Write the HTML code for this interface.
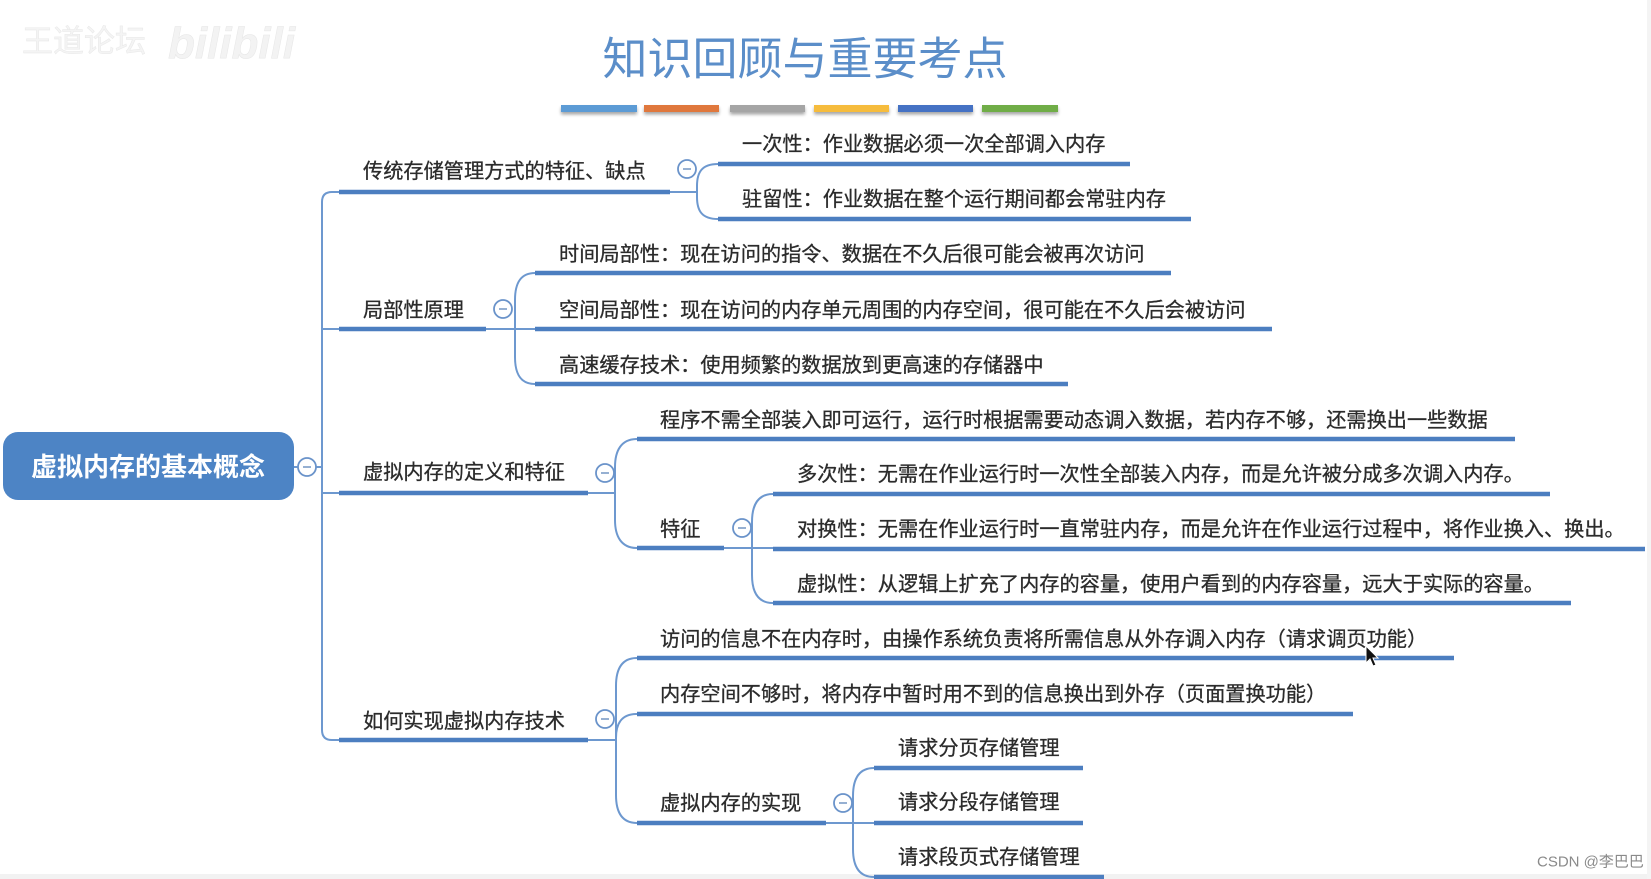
<!DOCTYPE html>
<html><head><meta charset="utf-8"><style>
html,body{margin:0;padding:0;background:#fff;}
svg{display:block;}
text{font-family:"Liberation Sans","Noto Sans CJK SC",sans-serif;}
.t{font-size:20.2px;fill:#2b2b2b;stroke:#2b2b2b;stroke-width:0.3;dominant-baseline:central;}
.u{stroke:#4c7ec0;stroke-width:4.5;stroke-linecap:butt;fill:none;}
.c{stroke:#6d98cf;stroke-width:2;fill:none;}
.btn circle{fill:#fff;stroke:#6a93ca;stroke-width:1.8;}
.btn line{stroke:#7c9cc6;stroke-width:1.6;}
</style></head><body>
<svg width="1651" height="879" viewBox="0 0 1651 879" xmlns="http://www.w3.org/2000/svg">
<defs>
<filter id="sh" x="-10%" y="-50%" width="120%" height="250%"><feGaussianBlur in="SourceAlpha" stdDeviation="1.5"/><feOffset dy="2.5"/><feComponentTransfer><feFuncA type="linear" slope="0.35"/></feComponentTransfer><feMerge><feMergeNode/><feMergeNode in="SourceGraphic"/></feMerge></filter>
</defs>
<rect width="1651" height="879" fill="#fff"/>
<rect x="0" y="874" width="1651" height="5" fill="#f2f2f2"/>
<rect x="1647" y="0" width="4" height="879" fill="#f4f4f4"/>

<!-- watermark -->
<text x="22" y="52" font-size="31" fill="#f4f4f4" stroke="#e8e8e8" stroke-width="0.5">王道论坛</text>
<text x="168" y="58" font-size="44" font-weight="bold" fill="#f3f3f3" stroke="#e6e6e6" stroke-width="0.5" font-style="italic">bilibili</text>

<!-- title -->
<text x="805" y="59" font-size="45" fill="#5b8ec9" text-anchor="middle" dominant-baseline="central">知识回顾与重要考点</text>
<g filter="url(#sh)">
<rect x="561" y="105" width="76" height="7" fill="#5b9bd5"/>
<rect x="644" y="105" width="75" height="7" fill="#e0783d"/>
<rect x="730" y="105" width="75" height="7" fill="#a5a5a5"/>
<rect x="814" y="105" width="75" height="7" fill="#f6bc3c"/>
<rect x="898" y="105" width="75" height="7" fill="#4472c4"/>
<rect x="982" y="105" width="76" height="7" fill="#70ad47"/>
</g>

<!-- root -->
<rect x="3" y="432" width="291" height="68" rx="15" fill="#4d84c5"/>
<text x="148" y="467" font-size="26" font-weight="bold" fill="#fff" text-anchor="middle" dominant-baseline="central">虚拟内存的基本概念</text>
<path class="c" d="M294 467 H322"/>
<g class="btn"><circle cx="307" cy="467" r="9"/><line x1="303" y1="467" x2="311" y2="467"/></g>

<!-- trunk -->
<path class="c" d="M339 192 H332 Q322 192 322 202 V730 Q322 740 332 740 H339"/>
<path class="c" d="M322 329 H339 M322 493 H339"/>

<!-- Branch 1 -->
<text class="t" x="363" y="172">传统存储管理方式的特征、缺点</text>
<path class="u" d="M339 192 H670"/>
<path class="c" d="M670 192 H697"/>
<path class="c" d="M718 164 C702 164 697 172 697 186 V197 C697 211 702 219 718 219"/>
<g class="btn"><circle cx="687" cy="169" r="9"/><line x1="683" y1="169" x2="691" y2="169"/></g>
<text class="t" x="742" y="145">一次性：作业数据必须一次全部调入内存</text>
<path class="u" d="M718 164 H1130"/>
<text class="t" x="742" y="200">驻留性：作业数据在整个运行期间都会常驻内存</text>
<path class="u" d="M718 219 H1191"/>

<!-- Branch 2 -->
<text class="t" x="363" y="311">局部性原理</text>
<path class="u" d="M339 329 H486"/>
<path class="c" d="M486 329 H535"/>
<path class="c" d="M535 273 C520 273 515 284 515 300 V357 C515 373 520 384 535 384"/>
<g class="btn"><circle cx="503" cy="309" r="9"/><line x1="499" y1="309" x2="507" y2="309"/></g>
<text class="t" x="559" y="255">时间局部性：现在访问的指令、数据在不久后很可能会被再次访问</text>
<path class="u" d="M535 273 H1171"/>
<text class="t" x="559" y="311">空间局部性：现在访问的内存单元周围的内存空间，很可能在不久后会被访问</text>
<path class="u" d="M535 329 H1272"/>
<text class="t" x="559" y="366">高速缓存技术：使用频繁的数据放到更高速的存储器中</text>
<path class="u" d="M535 384 H1068"/>

<!-- Branch 3 -->
<text class="t" x="363" y="473">虚拟内存的定义和特征</text>
<path class="u" d="M339 493 H588"/>
<path class="c" d="M588 493 H615"/>
<path class="c" d="M637 439 C621 439 615 451 615 467 V520 C615 536 621 548 637 548"/>
<g class="btn"><circle cx="605" cy="473" r="9"/><line x1="601" y1="473" x2="609" y2="473"/></g>
<text class="t" x="660" y="421">程序不需全部装入即可运行，运行时根据需要动态调入数据，若内存不够，还需换出一些数据</text>
<path class="u" d="M637 439 H1515"/>
<text class="t" x="660" y="530">特征</text>
<path class="u" d="M637 548 H724"/>
<path class="c" d="M724 548 H773"/>
<path class="c" d="M773 494 C757 494 752 506 752 522 V575 C752 591 757 603 773 603"/>
<g class="btn"><circle cx="742" cy="528" r="9"/><line x1="738" y1="528" x2="746" y2="528"/></g>
<text class="t" x="797" y="475">多次性：无需在作业运行时一次性全部装入内存，而是允许被分成多次调入内存。</text>
<path class="u" d="M773 494 H1550"/>
<text class="t" x="797" y="530">对换性：无需在作业运行时一直常驻内存，而是允许在作业运行过程中，将作业换入、换出。</text>
<path class="u" d="M773 549 H1645"/>
<text class="t" x="797" y="585">虚拟性：从逻辑上扩充了内存的容量，使用户看到的内存容量，远大于实际的容量。</text>
<path class="u" d="M773 603 H1571"/>

<!-- Branch 4 -->
<text class="t" x="363" y="722">如何实现虚拟内存技术</text>
<path class="u" d="M339 740 H588"/>
<path class="c" d="M588 740 H616"/>
<path class="c" d="M637 658 C621 658 616 670 616 686 V795 C616 811 621 823 637 823"/>
<path class="c" d="M616 738 C616 724 621 714 637 714"/>
<g class="btn"><circle cx="605" cy="719" r="9"/><line x1="601" y1="719" x2="609" y2="719"/></g>
<text class="t" x="660" y="640">访问的信息不在内存时，由操作系统负责将所需信息从外存调入内存（请求调页功能）</text>
<path class="u" d="M637 658 H1454"/>
<text class="t" x="660" y="695">内存空间不够时，将内存中暂时用不到的信息换出到外存（页面置换功能）</text>
<path class="u" d="M637 714 H1353"/>
<text class="t" x="660" y="804">虚拟内存的实现</text>
<path class="u" d="M637 823 H826"/>
<path class="c" d="M826 823 H874"/>
<path class="c" d="M874 768 C858 768 853 780 853 796 V849 C853 865 858 877 874 877"/>
<g class="btn"><circle cx="843" cy="803" r="9"/><line x1="839" y1="803" x2="847" y2="803"/></g>
<text class="t" x="898" y="749">请求分页存储管理</text>
<path class="u" d="M874 768 H1083"/>
<text class="t" x="898" y="803">请求分段存储管理</text>
<path class="u" d="M874 823 H1083"/>
<text class="t" x="898" y="858">请求段页式存储管理</text>
<path class="u" d="M874 877 H1104"/>

<!-- cursor -->
<path d="M1366 646 L1366 663 L1370 659 L1373 666 L1376 665 L1373 658 L1378 658 Z" fill="#111" stroke="#fff" stroke-width="1"/>

<!-- CSDN watermark -->
<text x="1537" y="862" font-size="15" fill="#8a8a8a" dominant-baseline="central">CSDN @李巴巴</text>
</svg>
</body></html>
